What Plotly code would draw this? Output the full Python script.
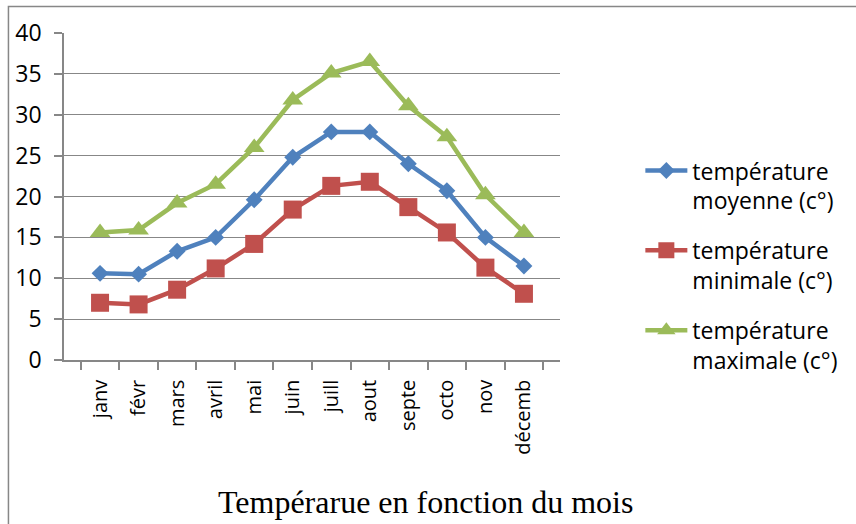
import plotly.graph_objects as go

months = ["janv", "févr", "mars", "avril", "mai", "juin", "juill", "aout", "septe", "octo", "nov", "décemb"]
moyenne = [10.6, 10.5, 13.3, 15.0, 19.6, 24.8, 27.9, 27.9, 24.0, 20.7, 15.0, 11.5]
minimale = [7.0, 6.8, 8.6, 11.2, 14.2, 18.4, 21.3, 21.8, 18.7, 15.6, 11.3, 8.1]
maximale = [15.6, 15.9, 19.2, 21.5, 26.0, 31.8, 35.1, 36.5, 31.1, 27.3, 20.2, 15.6]

names = ["température<br>moyenne (c°)", "température<br>minimale (c°)", "température<br>maximale (c°)"]
colors = ["#4F81BD", "#C0504D", "#9BBB59"]
symbols = ["diamond", "square", "triangle-up"]
sizes = [13, 18, 18]

font_main = "'Open Sans', sans-serif"

fig = go.Figure()
for i, (vals, name, c, s, sz) in enumerate(zip([moyenne, minimale, maximale], names, colors, symbols, sizes)):
    fig.add_trace(go.Scatter(
        x=months, y=vals, name=name, mode="lines+markers",
        legendgroup=f"g{i}",
        line=dict(color=c, width=4.5),
        marker=dict(symbol=s, size=sz, color=c),
    ))

fig.update_layout(
    width=856, height=524,
    margin=dict(l=64, r=296, t=33, b=164, autoexpand=False),
    paper_bgcolor="white", plot_bgcolor="white",
    font=dict(family=font_main, size=20, color="black"),
    showlegend=True,
    legend=dict(x=1.162, y=0.645, xanchor="left", yanchor="top",
                font=dict(size=23), tracegroupgap=17, valign="top",
                itemwidth=42, bgcolor="rgba(0,0,0,0)"),
    xaxis=dict(type="category", tickangle=-90, tickson="boundaries",
               ticks="outside", ticklen=8, tickcolor="#878787", tickwidth=1.5,
               showline=True, linecolor="#878787", linewidth=1.5, automargin=False,
               showgrid=False, tickfont=dict(size=20), ticklabelstandoff=10),
    yaxis=dict(range=[0, 40], dtick=5, ticks="outside", ticklen=8,
               tickcolor="#878787", tickwidth=1.5, showline=True, linecolor="#878787",
               linewidth=1.5, gridcolor="#878787", gridwidth=1.3, automargin=False,
               zeroline=False, tickfont=dict(size=23), ticklabelstandoff=8),
    shapes=[dict(type="rect", xref="paper", yref="paper",
                 x0=-0.112, x1=1.7, y0=-0.6, y1=1.081,
                 line=dict(color="#878787", width=1.5), layer="below")],
    annotations=[dict(text="Tempérarue en fonction du mois",
                      xref="paper", yref="paper", x=0.728, y=-0.434,
                      xanchor="center", yanchor="middle", showarrow=False,
                      font=dict(family="'Liberation Serif', 'Times New Roman', serif", size=32))],
)

fig.write_html("out.html", config={"displayModeBar": False},
               post_script="document.body.style.margin='0';document.body.style.overflow='hidden';")
